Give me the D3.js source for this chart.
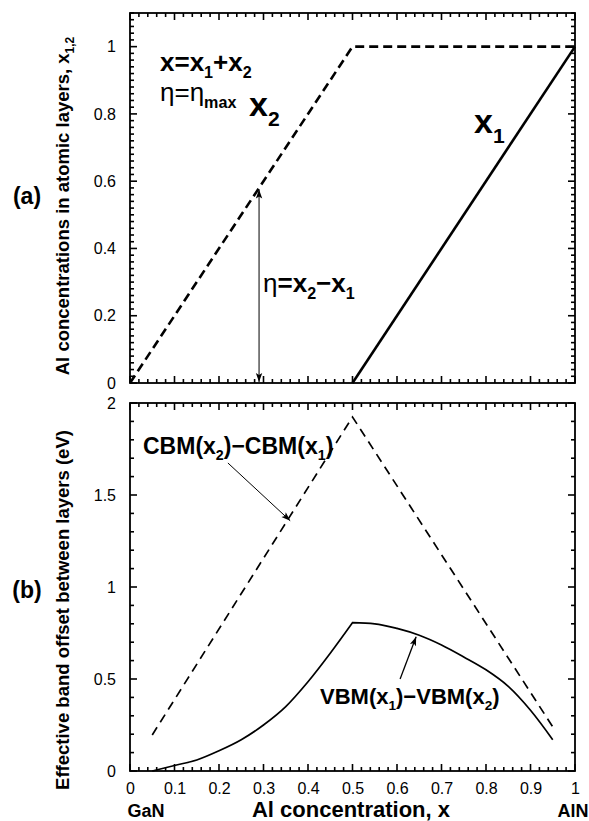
<!DOCTYPE html>
<html>
<head>
<meta charset="utf-8">
<script src="https://cdn.jsdelivr.net/npm/d3@7"></script>
<style>
  body { margin: 0; background: #fff; }
  svg { display: block; font-family: "Liberation Sans", Arial, Helvetica, sans-serif; }
</style>
</head>
<body>
<div id="chart"></div>
<script>
// panel (a): Al content of the two atomic layers
let x2X = [0, 0.5, 1];
let x2Y = [0, 1, 1];
let x1X = [0.5, 1];
let x1Y = [0, 1];

// panel (b): effective band offsets
let cbmX = [0.05, 0.5, 0.95];
let cbmY = [0.196, 1.924, 0.24];
let vbmX = [0.05, 0.1, 0.15, 0.2, 0.25, 0.3, 0.35, 0.4, 0.45, 0.5, 0.55, 0.6, 0.65, 0.7, 0.75, 0.8, 0.85, 0.9, 0.95];
let vbmY = [0, 0.03, 0.06, 0.11, 0.17, 0.25, 0.35, 0.485, 0.64, 0.806, 0.8, 0.775, 0.738, 0.685, 0.62, 0.55, 0.46, 0.33, 0.17];

// ticks
let xMajor = [0, 0.1, 0.2, 0.3, 0.4, 0.5, 0.6, 0.7, 0.8, 0.9, 1];
let xLabels = ["0", "0.1", "0.2", "0.3", "0.4", "0.5", "0.6", "0.7", "0.8", "0.9", "1"];
let yaMajor = [0, 0.2, 0.4, 0.6, 0.8, 1];
let yaLabels = ["0", "0.2", "0.4", "0.6", "0.8", "1"];
let ybMajor = [0, 0.5, 1, 1.5, 2];
let ybLabels = ["0", "0.5", "1", "1.5", "2"];

let W = 589, H = 821;
let left = 130, right = 575;
let aTop = 13, aBot = 383, bTop = 403, bBot = 771;

let svg = d3.select("#chart").append("svg")
    .attr("width", W)
    .attr("height", H);

let x = d3.scaleLinear().domain([0, 1]).range([left, right]);
let ya = d3.scaleLinear().domain([0, 1.1]).range([aBot, aTop]);
let yb = d3.scaleLinear().domain([0, 2]).range([bBot, bTop]);

// minor tick values (every 0.02 on x and top y, every 0.1 on bottom y)
let xMinor = d3.range(0, 51).map(i => i / 50).filter(v => Math.round(v * 50) % 5 != 0);
let yaMinor = d3.range(0, 56).map(i => i / 50).filter(v => Math.round(v * 50) % 10 != 0);
let ybMinor = d3.range(0, 21).map(i => i / 10).filter(v => Math.round(v * 10) % 5 != 0);

let blank = () => "";
function fmt(labels, vals) {
    return d => labels[vals.indexOf(d)];
}

function drawFrame(y, yMaj, yMin, yLab, top, bot, showX) {
    let g = svg.append("g");

    // labels through d3 axes
    g.append("g").attr("transform", "translate(0," + bot + ")")
        .call(d3.axisBottom(x).tickValues(xMajor).tickSize(0).tickPadding(12)
            .tickFormat(showX ? fmt(xLabels, xMajor) : blank));
    g.append("g").attr("transform", "translate(" + left + ",0)")
        .call(d3.axisLeft(y).tickValues(yMaj).tickSize(0).tickPadding(14)
            .tickFormat(fmt(yLab, yMaj)));
    g.selectAll(".domain").remove();
    g.selectAll(".tick text")
        .style("font-size", "16px")
        .style("font-family", "'Liberation Sans', Arial, sans-serif")
        .attr("fill", "#000");

    // inward ticks on all four sides
    let ticks = g.append("g").attr("stroke", "#000").attr("stroke-width", 1.6);
    [[xMajor, 7], [xMinor, 4]].forEach(function(t) {
        ticks.selectAll(null).data(t[0]).enter().append("line")
            .attr("x1", d => x(d)).attr("x2", d => x(d))
            .attr("y1", bot).attr("y2", bot - t[1]);
        ticks.selectAll(null).data(t[0]).enter().append("line")
            .attr("x1", d => x(d)).attr("x2", d => x(d))
            .attr("y1", top).attr("y2", top + t[1]);
    });
    [[yMaj, 7], [yMin, 4]].forEach(function(t) {
        ticks.selectAll(null).data(t[0]).enter().append("line")
            .attr("y1", d => y(d)).attr("y2", d => y(d))
            .attr("x1", left).attr("x2", left + t[1]);
        ticks.selectAll(null).data(t[0]).enter().append("line")
            .attr("y1", d => y(d)).attr("y2", d => y(d))
            .attr("x1", right).attr("x2", right - t[1]);
    });

    g.append("rect")
        .attr("x", left).attr("y", top)
        .attr("width", right - left).attr("height", bot - top)
        .attr("fill", "none").attr("stroke", "#000").attr("stroke-width", 1.8);
}

drawFrame(ya, yaMajor, yaMinor, yaLabels, aTop, aBot, false);
drawFrame(yb, ybMajor, ybMinor, ybLabels, bTop, bBot, true);

// arrow markers
let defs = svg.append("defs");
defs.append("marker")
    .attr("id", "head")
    .attr("viewBox", "-10 -5 12 10")
    .attr("refX", 0).attr("refY", 0)
    .attr("markerWidth", 12).attr("markerHeight", 10)
    .attr("markerUnits", "userSpaceOnUse")
    .attr("orient", "auto-start-reverse")
    .append("path")
    .attr("d", "M-9,-3.2L0,0L-9,3.2L-7,0Z")
    .attr("fill", "#000");

// ---- panel (a) lines
let lineA = d3.line().x(d => x(d[0])).y(d => ya(d[1]));
svg.append("path")
    .attr("d", lineA(d3.zip(x2X, x2Y)))
    .attr("fill", "none").attr("stroke", "#000")
    .attr("stroke-width", 2.6).attr("stroke-dasharray", "9,5");
svg.append("path")
    .attr("d", lineA(d3.zip(x1X, x1Y)))
    .attr("fill", "none").attr("stroke", "#000")
    .attr("stroke-width", 2.6);

// eta double arrow
svg.append("line")
    .attr("x1", x(0.29)).attr("y1", ya(0.003))
    .attr("x2", x(0.29)).attr("y2", ya(0.575))
    .attr("stroke", "#000").attr("stroke-width", 1)
    .attr("marker-start", "url(#head)")
    .attr("marker-end", "url(#head)");

// ---- panel (b) lines
let lineB = d3.line().x(d => x(d[0])).y(d => yb(d[1]));
svg.append("path")
    .attr("d", lineB(d3.zip(cbmX, cbmY)))
    .attr("fill", "none").attr("stroke", "#000")
    .attr("stroke-width", 1.7).attr("stroke-dasharray", "9,6");

// VBM: smooth on each side of the kink at x = 0.5
let vbm = d3.zip(vbmX, vbmY);
let kink = vbmX.indexOf(0.5);
let smooth = d3.line().x(d => x(d[0])).y(d => yb(d[1])).curve(d3.curveMonotoneX);
svg.append("path")
    .attr("d", smooth(vbm.slice(0, kink + 1)) + smooth(vbm.slice(kink)).replace(/^M/, "L"))
    .attr("fill", "none").attr("stroke", "#000")
    .attr("stroke-width", 1.7);

svg.append("line")
    .attr("x1", x(0.22)).attr("y1", yb(1.674))
    .attr("x2", x(0.36)).attr("y2", yb(1.36))
    .attr("stroke", "#000").attr("stroke-width", 1)
    .attr("marker-end", "url(#head)");
svg.append("line")
    .attr("x1", x(0.607)).attr("y1", yb(0.5))
    .attr("x2", x(0.643)).attr("y2", yb(0.73))
    .attr("stroke", "#000").attr("stroke-width", 1.3)
    .attr("marker-end", "url(#head)");

// ---- text helpers
function rich(xp, yp, parts, size, weight) {
    let t = svg.append("text")
        .attr("x", xp).attr("y", yp)
        .attr("fill", "#000")
        .style("font-size", size + "px")
        .style("font-weight", weight || "bold");
    let shift = 0;
    parts.forEach(function(p) {
        let s = t.append("tspan").text(p[0]);
        let want = p[1] ? size * 0.28 : 0;
        if (want != shift) s.attr("dy", want - shift);
        shift = want;
        if (p[1]) s.style("font-size", (size * 0.62) + "px");
        if (p[2]) s.style("font-weight", p[2]);
    });
    return t;
}

rich(160, 71, [["x=x"], ["1", 1], ["+x"], ["2", 1]], 26);
rich(160, 101, [["η=η", 0, "normal"], ["max", 1]], 26);
rich(249, 116, [["x"], ["2", 1]], 34);
rich(474, 133, [["x"], ["1", 1]], 34);
rich(263, 292, [["η", 0, "normal"], ["=x"], ["2", 1], ["−x"], ["1", 1]], 26);

rich(143, 454, [["CBM(x"], ["2", 1], [")−CBM(x"], ["1", 1], [")"]], 23);
rich(320, 704, [["VBM(x"], ["1", 1], [")−VBM(x"], ["2", 1], [")"]], 22);

// panel letters
svg.append("text").attr("x", 27).attr("y", 204)
    .attr("text-anchor", "middle")
    .style("font-size", "23px").style("font-weight", "bold").text("(a)");
svg.append("text").attr("x", 27).attr("y", 598)
    .attr("text-anchor", "middle")
    .style("font-size", "23px").style("font-weight", "bold").text("(b)");

// y axis titles
let ta = svg.append("text")
    .attr("transform", "translate(69,206) rotate(-90)")
    .attr("text-anchor", "middle")
    .style("font-size", "18.5px").style("font-weight", "bold");
ta.append("tspan").text("Al concentrations in atomic layers, x");
ta.append("tspan").attr("dy", 5).style("font-size", "12px").text("1,2");

svg.append("text")
    .attr("transform", "translate(69,610) rotate(-90)")
    .attr("text-anchor", "middle")
    .style("font-size", "18.5px").style("font-weight", "bold")
    .text("Effective band offset between layers (eV)");

// x axis title and end labels
svg.append("text").attr("x", 351).attr("y", 817)
    .attr("text-anchor", "middle")
    .style("font-size", "22px").style("font-weight", "bold")
    .text("Al concentration, x");
svg.append("text").attr("x", 146).attr("y", 817)
    .attr("text-anchor", "middle")
    .style("font-size", "18px").style("font-weight", "bold")
    .text("GaN");
svg.append("text").attr("x", 573).attr("y", 817)
    .attr("text-anchor", "middle")
    .style("font-size", "18px").style("font-weight", "bold")
    .text("AlN");
</script>
</body>
</html>
